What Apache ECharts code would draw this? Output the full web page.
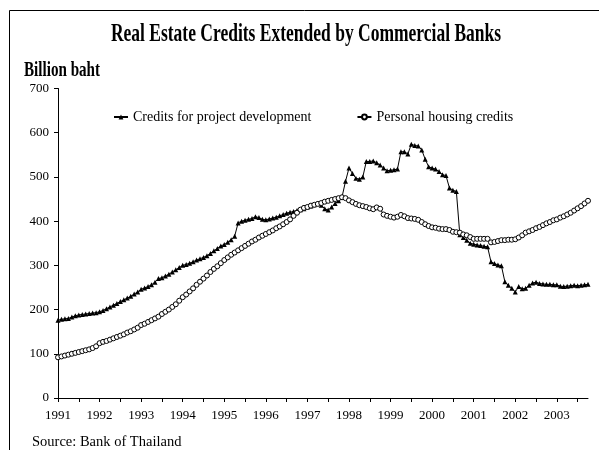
<!DOCTYPE html>
<html>
<head>
<meta charset="utf-8">
<script src="https://cdn.jsdelivr.net/npm/echarts@6/dist/echarts.min.js"></script>
<style>
  html, body { margin: 0; padding: 0; background: #fff; }
  #chart { width: 599px; height: 450px; }
</style>
</head>
<body>
<div id="chart"></div>
<script>
// monthly data, Jan 1991 - Oct 2003 (billion baht)
var years = [1991, 1992, 1993, 1994, 1995, 1996, 1997, 1998, 1999, 2000, 2001, 2002, 2003];
var lastYearMonths = 10;

var projectCredits = [
  176, 178, 179, 180, 183, 186, 188, 189, 190, 191, 192, 193,
  195, 198, 202, 206, 210, 214, 218, 222, 226, 230, 235, 240,
  246, 249, 252, 256, 262, 270, 272, 276, 280, 285, 290, 295,
  300, 302, 305, 308, 312, 315, 318, 322, 327, 333, 338, 344,
  347, 352, 358, 366, 396, 400, 402, 404, 406, 410, 408, 404,
  403, 405, 407, 409, 412, 415, 418, 420, 422, 424, 426, 428,
  432, 434, 437, 440, 436, 428, 425, 432, 440, 446, 455, 490,
  520, 508, 497, 495, 500, 535, 535, 536, 532, 527, 520, 514,
  515, 516, 518, 557, 557, 552, 574, 571, 570, 561, 540, 523,
  520, 518, 512, 505, 503, 475, 470, 467, 369, 363, 357, 350,
  348, 346, 345, 343, 342, 308, 304, 301, 299, 263, 255, 248,
  240, 252, 247, 248, 255, 260, 262, 259, 258, 257, 257, 256,
  256, 253, 252, 253, 254, 255, 254, 255, 256, 257
];

var housingCredits = [
  92, 94, 96, 98, 100, 102, 104, 106, 108, 110, 113, 117,
  124, 127, 129, 132, 135, 138, 141, 144, 148, 151, 155, 159,
  165, 168, 172, 176, 180, 184, 190, 195, 200, 206, 212, 220,
  228, 234, 241, 248, 256, 263, 270, 277, 285, 292, 298, 305,
  312, 318, 324, 329, 334, 339, 344, 349, 354, 358, 363, 367,
  371, 375, 379, 384, 388, 393, 398, 404, 412, 419, 426, 430,
  432, 435, 437, 439, 441, 444, 446, 448, 450, 452, 454, 452,
  447, 443, 439, 436, 434, 432, 429, 427, 431, 428, 415, 412,
  410, 408, 410, 414, 411, 407, 406, 405, 403, 398, 393, 389,
  386, 385, 383, 382, 382, 380, 376, 375, 374, 370, 368, 364,
  360, 360, 360, 360, 360, 352, 353, 355, 357, 357, 358, 358,
  359, 363, 368, 374, 377, 380, 384, 387, 391, 395, 398, 402,
  404, 408, 411, 415, 419, 424, 429, 434, 440, 446
];

var months = [];
years.forEach(function (y, i) {
  var n = i === years.length - 1 ? lastYearMonths : 12;
  for (var m = 1; m <= n; m++) months.push(y + '-' + (m < 10 ? '0' + m : m));
});

var font = '"Liberation Serif", "Times New Roman", serif';

var chart = echarts.init(document.getElementById('chart'));
chart.setOption({
  animation: false,
  backgroundColor: '#fff',
  textStyle: { fontFamily: font },
  graphic: [
    {
      type: 'rect',
      shape: { x: 9.5, y: 10.5, width: 620, height: 470 },
      style: { fill: 'none', stroke: '#000', lineWidth: 1 }
    },
    {
      type: 'text',
      x: 306, y: 35,
      scaleX: 0.7,
      style: {
        text: 'Real Estate Credits Extended by Commercial Banks',
        font: 'bold 25px ' + font,
        fill: '#000',
        textAlign: 'center',
        textVerticalAlign: 'middle'
      }
    },
    {
      type: 'text',
      x: 24, y: 71,
      scaleX: 0.72,
      style: {
        text: 'Billion baht',
        font: 'bold 21px ' + font,
        fill: '#000',
        textVerticalAlign: 'middle'
      }
    },
    {
      type: 'text',
      x: 32, y: 442,
      style: {
        text: 'Source: Bank of Thailand',
        font: '14.5px ' + font,
        fill: '#000',
        textVerticalAlign: 'middle'
      }
    }
  ],
  legend: {
    top: 105,
    left: 108,
    itemWidth: 14,
    itemHeight: 6,
    itemGap: 45,
    textStyle: { fontFamily: font, fontSize: 14, color: '#000' },
    data: ['Credits for project development', 'Personal housing credits']
  },
  grid: { left: 58, right: 11, top: 88.5, bottom: 52 },
  xAxis: {
    type: 'category',
    boundaryGap: false,
    data: months,
    axisLine: { lineStyle: { color: '#000', width: 1 } },
    axisTick: {
      interval: function (i) { return i % 6 === 0; },
      length: 4,
      lineStyle: { color: '#000' }
    },
    axisLabel: {
      interval: function (i) { return i % 12 === 0; },
      formatter: function (v) { return v.slice(0, 4); },
      color: '#000',
      fontSize: 13,
      fontFamily: font,
      margin: 11
    },
    splitLine: { show: false }
  },
  yAxis: {
    type: 'value',
    min: 0,
    max: 700,
    interval: 100,
    axisLine: { show: true, lineStyle: { color: '#000', width: 1 } },
    axisTick: { show: true, length: 4, lineStyle: { color: '#000' } },
    axisLabel: { color: '#000', fontSize: 13, fontFamily: font, margin: 9 },
    splitLine: { show: false }
  },
  series: [
    {
      name: 'Credits for project development',
      type: 'line',
      data: projectCredits,
      symbol: 'triangle',
      symbolSize: 5,
      showAllSymbol: true,
      lineStyle: { color: '#000', width: 1 },
      itemStyle: { color: '#000', borderColor: '#000', borderWidth: 0 }
    },
    {
      name: 'Personal housing credits',
      type: 'line',
      data: housingCredits,
      symbol: 'circle',
      symbolSize: 5,
      showAllSymbol: true,
      lineStyle: { color: '#000', width: 1 },
      itemStyle: { color: '#fff', borderColor: '#000', borderWidth: 1 }
    }
  ]
});
</script>
</body>
</html>
